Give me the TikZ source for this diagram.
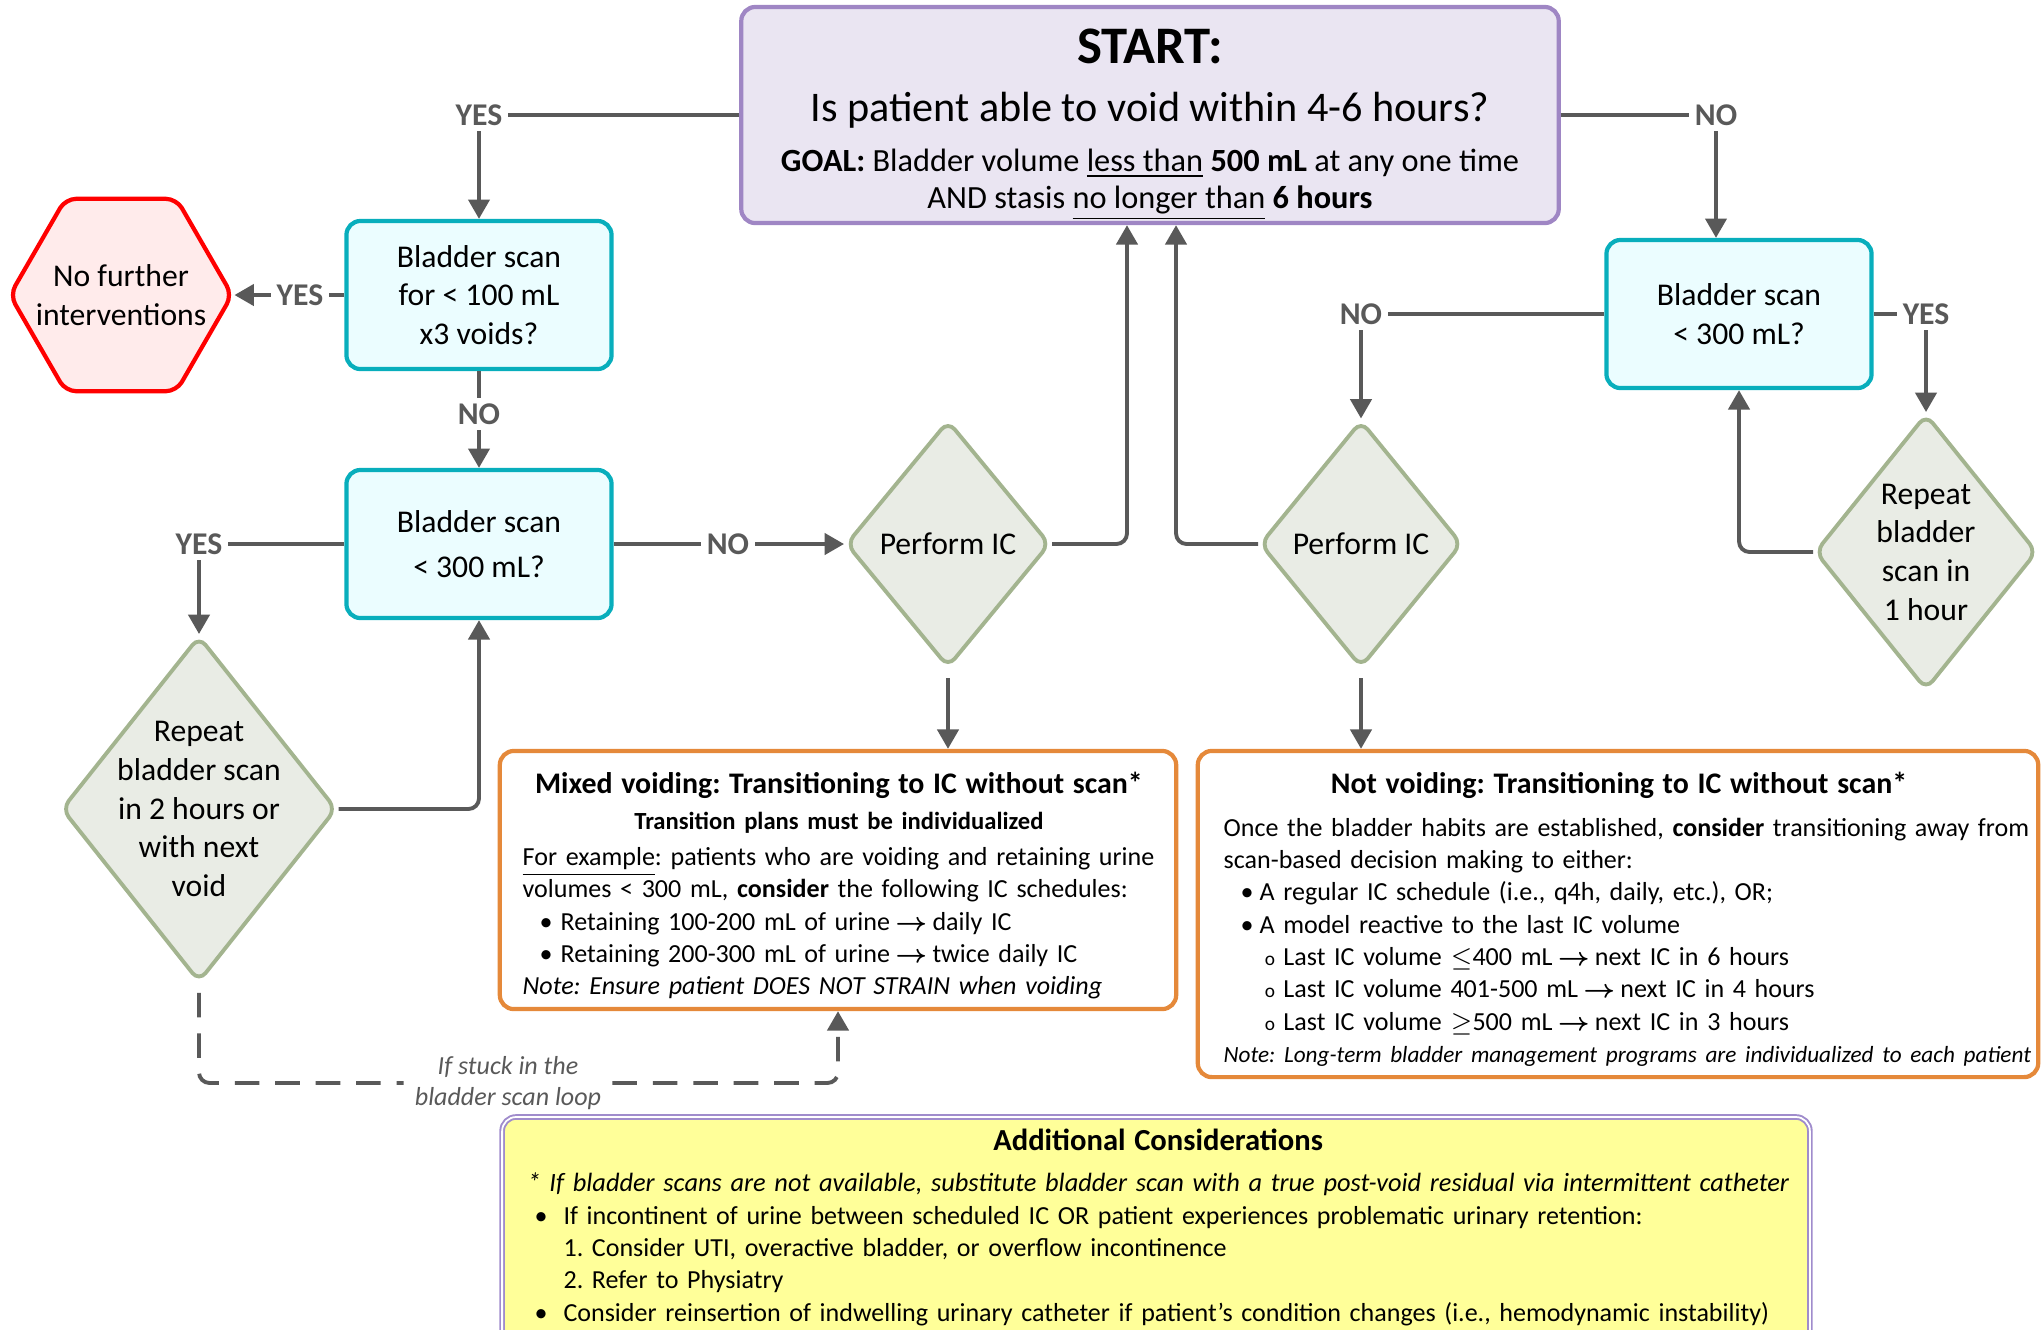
\documentclass[tikz,border=0pt]{standalone}
\usepackage{fontspec}
\setmainfont{Carlito}
\usetikzlibrary{arrows.meta,calc,positioning,shapes.geometric}
\definecolor{FlowInk}{HTML}{595959}
\definecolor{StartLine}{HTML}{9F86C4}
\definecolor{StartFill}{HTML}{EAE5F2}
\definecolor{ScanLine}{HTML}{08AEBC}
\definecolor{ScanFill}{HTML}{EBFDFF}
\definecolor{RepeatLine}{HTML}{A3B48F}
\definecolor{RepeatFill}{HTML}{E9ECE5}
\definecolor{HaltLine}{HTML}{FF0000}
\definecolor{HaltFill}{HTML}{FFEBEB}
\definecolor{PlanLine}{HTML}{E5893A}
\definecolor{NoteFill}{HTML}{FFFF99}
\definecolor{NoteLine}{HTML}{A08CCC}
\frenchspacing
\newcommand{\fsz}[2]{\fontsize{#1}{#2}\selectfont}
\newcommand{\dotitem}[2]{\hspace*{#1}\makebox[#2][l]{\textbullet}}
\newcommand{\ringitem}[2]{\hspace*{#1}\makebox[#2][l]{\fsz{5.5}{9}o}}
\newcommand{\flowto}{\hspace{1.5pt}{\fsz{7}{7}\boldmath$\rightarrow$}\hspace{1.5pt}}

\begin{document}
\begin{tikzpicture}[x=0.01cm,y=-0.01cm,font=\fsz{9}{11},
  startbox/.style={draw=StartLine,fill=StartFill,line width=1.2pt,rounded corners=4pt,minimum width=8.17cm,minimum height=2.16cm},
  scanbox/.style={draw=ScanLine,fill=ScanFill,line width=1.2pt,rounded corners=4pt,minimum width=2.65cm,minimum height=1.48cm,align=center},
  repeatbox/.style={diamond,draw=RepeatLine,fill=RepeatFill,line width=1.1pt,rounded corners=3pt,inner sep=0pt,align=center},
  haltbox/.style={regular polygon,regular polygon sides=6,draw=HaltLine,fill=HaltFill,line width=1.2pt,rounded corners=3pt,minimum size=2.22cm,inner sep=0pt},
  planbox/.style={draw=PlanLine,fill=white,line width=1.2pt,rounded corners=4pt,inner sep=0pt},
  notebox/.style={draw=NoteLine,double=white,double distance=0.5pt,line width=0.55pt,fill=NoteFill,rounded corners=4pt,inner sep=0pt},
  plantext/.style={anchor=north west,inner sep=0pt,font=\fsz{7.4}{9.2}},
  ans/.style={text=FlowInk,font=\fsz{9}{11}\bfseries,inner sep=1.5pt},
  arr/.style={draw=FlowInk,line width=1.1pt,rounded corners=3pt,-{Triangle[length=5.5pt,width=6pt]}},
  link/.style={draw=FlowInk,line width=1.1pt,rounded corners=3pt},
  loopline/.style={draw=FlowInk,line width=1.1pt,rounded corners=3pt,dash pattern=on 7pt off 4.5pt}]
\useasboundingbox (0,0) rectangle (2042,1329);

% start question
\node[startbox] (start) at (1150,115) {};
\node[anchor=base,font=\fsz{15}{18}\bfseries] (startT) at (1150,63) {START:};
\node[anchor=base,font=\fsz{12}{14}] (startQ) at (1150,121) {Is patient able to void within 4-6 hours?};
\node[anchor=base,font=\fsz{9.2}{11}] (startG) at (1150,171) {\textbf{GOAL:} Bladder volume \underline{less than} \textbf{500 mL} at any one time};
\node[anchor=base,font=\fsz{9.2}{11}] (startA) at (1150,208) {AND stasis \underline{no longer than} \textbf{6 hours}};

% voiding branch (left)
\node[ans] (yesA) at (479,115) {YES};
\node[scanbox] (scanA) at (479,295) {Bladder scan\\for < 100 mL\\x3 voids?};
\node[haltbox,label={[align=center]center:No further\\interventions}] (halt) at (121,295) {};
\node[ans] (yesB) at (300,295) {YES};
\node[ans] (noB) at (479,414) {NO};
\node[scanbox] (scanB) at (479,544) {Bladder scan\\[2pt]< 300 mL?};
\node[ans] (yesC) at (199,544) {YES};
\node[repeatbox,minimum width=2.75cm,minimum height=3.46cm,
  label={[align=center]center:Repeat\\bladder scan\\in 2 hours or\\with next\\void}] (repA) at (199,809) {};
\node[ans] (noC) at (728,544) {NO};
\node[repeatbox,minimum width=2.04cm,minimum height=2.47cm] (perfA) at (948,544) {Perform IC};

% not voiding branch (right)
\node[ans] (noA) at (1716,115) {NO};
\node[scanbox] (scanC) at (1739,314) {Bladder scan\\< 300 mL?};
\node[ans] (noD) at (1361,314) {NO};
\node[ans] (yesD) at (1926,314) {YES};
\node[repeatbox,minimum width=2.22cm,minimum height=2.76cm,
  label={[align=center]center:Repeat\\bladder\\scan in\\1 hour}] (repB) at (1926,552) {};
\node[repeatbox,minimum width=2.02cm,minimum height=2.47cm] (perfB) at (1361,544) {Perform IC};

% transition plans
\node[planbox,minimum width=6.76cm,minimum height=2.58cm] (mixA) at (838,880) {};
\node[plantext,text width=7.2cm] (mixT) at (522,771) {\raggedright
  \makebox[6.32cm]{\fsz{8.5}{10.5}\bfseries Mixed voiding: Transitioning to IC without scan*}\\[1.2pt]
  \makebox[6.32cm]{\fsz{7}{10.5}\bfseries Transition plans must be individualized}\\[1pt]
  \underline{For example}: patients who are voiding and retaining urine\\
  volumes < 300 mL, \textbf{consider} the following IC schedules:\\
  \dotitem{4.8pt}{6pt}Retaining 100-200 mL of urine\flowto daily IC\\
  \dotitem{4.8pt}{6pt}Retaining 200-300 mL of urine\flowto twice daily IC\\
  {\itshape Note: Ensure patient DOES NOT STRAIN when voiding}};
\node[planbox,minimum width=8.4cm,minimum height=3.26cm] (notB) at (1618,914) {};
\node[plantext,text width=9cm] (notT) at (1223,771) {\raggedright
  \makebox[7.9cm]{\fsz{8.5}{10.5}\bfseries Not voiding: Transitioning to IC without scan*}\\[3pt]
  Once the bladder habits are established, \textbf{consider} transitioning away from\\
  scan-based decision making to either:\\
  \dotitem{4.8pt}{5.4pt}A regular IC schedule (i.e., q4h, daily, etc.), OR;\\
  \dotitem{4.8pt}{5.4pt}A model reactive to the last IC volume\\
  \ringitem{11.7pt}{5.3pt}Last IC volume $\le$400 mL\flowto next IC in 6 hours\\
  \ringitem{11.7pt}{5.3pt}Last IC volume 401-500 mL\flowto next IC in 4 hours\\
  \ringitem{11.7pt}{5.3pt}Last IC volume $\ge$500 mL\flowto next IC in 3 hours\\
  {\fsz{6.6}{9.2}\itshape Note: Long-term bladder management programs are individualized to each patient}};

% additional considerations
\node[notebox,anchor=north,minimum width=13.07cm,minimum height=2.7cm] (note) at (1156,1116) {};
\node[plantext,text width=13.5cm] (noteT) at (527,1128) {\raggedright
  \makebox[12.6cm]{\fsz{8.7}{11}\bfseries Additional Considerations}\\[2.6pt]
  {\fsz{7.5}{9.2}\itshape * If bladder scans are not available, substitute bladder scan with a true post-void residual via intermittent catheter}\\
  \dotitem{2pt}{8.2pt}If incontinent of urine between scheduled IC OR patient experiences problematic urinary retention:\\
  \hspace*{10.2pt}1. Consider UTI, overactive bladder, or overflow incontinence\\
  \hspace*{10.2pt}2. Refer to Physiatry\\
  \dotitem{2pt}{8.2pt}Consider reinsertion of indwelling urinary catheter if patient’s condition changes (i.e., hemodynamic instability)};

\node[text=FlowInk,font=\fsz{7.4}{9}\itshape,align=center,inner sep=3pt] (loop) at (508,1083) {If stuck in the\\bladder scan loop};

% connectors
\draw[link] (start.west |- yesA) -- (yesA.east);
\draw[arr] (yesA.south) -- (scanA.north);
\draw[link] (scanA.west) -- (yesB.east);
\draw[arr] (yesB.west) -- (halt.east);
\draw[link] (scanA.south) -- (noB.north);
\draw[arr] (noB.south) -- (scanB.north);
\draw[link] (scanB.west) -- (yesC.east);
\draw[arr] (yesC.south) -- (repA.north);
\draw[arr] (repA.east) -| (scanB.south);
\draw[link] (scanB.east) -- (noC.west);
\draw[arr] (noC.east) -- (perfA.west);
\draw[arr] (perfA.east) -| ([xshift=-0.23cm]start.south);
\draw[arr,shorten <=2.5pt] (perfA.south) -- (perfA.south |- mixA.north);
\draw[link] (start.east |- noA) -- (noA.west);
\draw[arr] (noA.south) -- (noA.south |- scanC.north);
\draw[link] (scanC.west) -- (noD.east);
\draw[arr] (noD.south) -- (perfB.north);
\draw[link] (scanC.east) -- (yesD.west);
\draw[arr] (yesD.south) -- (repB.north);
\draw[arr] (repB.west) -| (scanC.south);
\draw[arr] (perfB.west) -| ([xshift=0.26cm]start.south);
\draw[arr,shorten <=2.5pt] (perfB.south) -- (perfB.south |- notB.north);
\draw[loopline,shorten <=2.5pt] (repA.south) |- (loop.west);
\draw[loopline,-{Triangle[length=5.5pt,width=6pt]}] (loop.east) -| (mixA.south);
\end{tikzpicture}
\end{document}
